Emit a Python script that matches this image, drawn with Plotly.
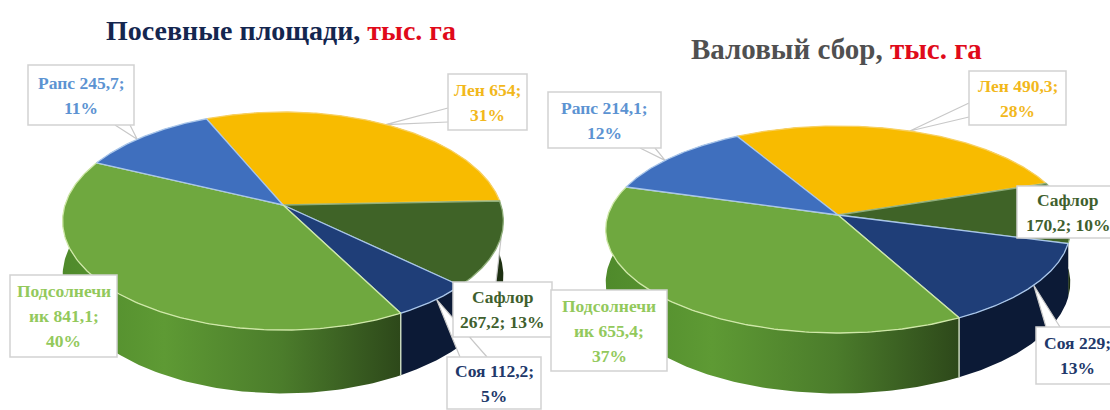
import numpy as np
import plotly.graph_objects as go

# ---------- data ----------
categories = ["Лен", "Сафлор", "Соя", "Подсолнечник", "Рапс"]
sown_area = [654, 267.2, 112.2, 841.1, 245.7]
harvest = [490.3, 170.2, 229, 655.4, 214.1]
sown_labels = [["Лен 654;", "31%"], ["Сафлор", "267,2; 13%"], ["Соя 112,2;", "5%"],
               ["Подсолнечи", "ик 841,1;", "40%"], ["Рапс 245,7;", "11%"]]
harvest_labels = [["Лен 490,3;", "28%"], ["Сафлор", "170,2; 10%"], ["Соя 229;", "13%"],
                  ["Подсолнечи", "ик 655,4;", "37%"], ["Рапс 214,1;", "12%"]]

# ---------- style ----------
top_colors = ["#F8BB00", "#3F6327", "#1F3E78", "#6FA83F", "#3F6FBE"]
rim_colors = ["#F8D060", "#8FAE7A", "#A9C6EA", "#CFE8A8", "#A9C6EA"]
side_colors = ["#B98C00", "#1E3012", "#0C1A36", None, "#2A4C88"]
label_colors = ["#F2B81C", "#3F5F2E", "#21386A", "#93C95C", "#5C93D2"]
FONT = "Liberation Serif"
green_scale = [[0, "#4F8A2B"], [0.3, "#5E9A34"], [0.65, "#4B7C2B"], [1, "#2D481A"]]

fig = go.Figure()


def project(deg, g, drop=0.0):
    t = np.radians(deg)
    X, Y = np.cos(t), np.sin(t)
    s = 1 / (1 + g["k"] * Y)
    return g["cx"] + g["a"] * X * s, g["cy"] + s * (drop - g["b"] * Y)


def draw_pie(values, g, labels, boxes, tips):
    vals = np.array(values, dtype=float)
    sweep = 360 * vals / vals.sum()
    ends = g["start"] - np.cumsum(sweep)
    starts = ends + sweep
    mids = (starts + ends) / 2

    # sides, back to front
    order = np.argsort(-np.sin(np.radians(mids)))
    for i in order:
        ang = np.linspace(starts[i], ends[i], 120)
        xt, yt = project(ang, g)
        xb, yb = project(ang, g, g["depth"])
        xs = np.r_[xt, xb[::-1], xt[0]]
        ys = np.r_[yt, yb[::-1], yt[0]]
        kw = {}
        if side_colors[i] is None:
            kw = dict(fillgradient=dict(type="horizontal", colorscale=green_scale,
                                        start=float(xs.min()), stop=float(xs.max())))
        else:
            kw = dict(fillcolor=side_colors[i])
        fig.add_trace(go.Scatter(x=xs, y=ys, mode="lines", fill="toself", line=dict(width=0),
                                 hoverinfo="skip", showlegend=False, **kw))
    # front separator between the sunflower and soy sides
    xa, ya = project(ends[2], g)
    xc, yc = project(ends[2], g, g["depth"])
    fig.add_trace(go.Scatter(x=[xa, xc], y=[ya, yc], mode="lines",
                             line=dict(color="#C9D8BC", width=1.5), hoverinfo="skip", showlegend=False))

    # callouts sit over the sides but under the top face
    for i in range(len(vals)):
        if tips[i] is not None:
            tx, ty = project(mids[i] + tips[i][0], g)
            bx = tips[i][1]
            fig.add_trace(go.Scatter(x=[bx[0], tx, bx[2]], y=[bx[1], ty, bx[3]], mode="lines",
                                     fill="toself", fillcolor="white",
                                     line=dict(color="#C8C8C8", width=1.2),
                                     hoverinfo="skip", showlegend=False))

    # top face
    for i in range(len(vals)):
        ang = np.linspace(starts[i], ends[i], 160)
        x, y = project(ang, g)
        fig.add_trace(go.Scatter(x=np.r_[g["cx"], x, g["cx"]], y=np.r_[g["cy"], y, g["cy"]],
                                 mode="lines", fill="toself", fillcolor=top_colors[i],
                                 line=dict(color=rim_colors[i], width=1.3),
                                 name=categories[i], hoverinfo="name", showlegend=False))

    # labels
    for i, lines in enumerate(labels):
        x0, y0, x1, y1 = boxes[i]
        fig.add_shape(type="rect", x0=x0, y0=y0, x1=x1, y1=y1, layer="above",
                      fillcolor="white", line=dict(color="#D2D2D2", width=1.5))
        n = len(lines)
        yc0 = (y0 + y1) / 2
        for j, t in enumerate(lines):
            fig.add_annotation(x=(x0 + x1) / 2, y=yc0 + (j - (n - 1) / 2) * g["lead"],
                               text="<b>" + t + "</b>",
                               showarrow=False, xanchor="center", yanchor="middle",
                               font=dict(family=FONT, size=g["fs"], color=label_colors[i]))


left = dict(cx=283, cy=205, a=218, b=106.7, k=0.147, depth=54, start=113.5, lead=25, fs=17.5)
right = dict(cx=838, cy=215, a=230, b=101.5, k=0.14, depth=52, start=119.5, lead=25, fs=17.5)

left_boxes = [(448, 74, 527, 130), (453, 282, 552, 337), (447, 357, 541, 409),
              (10, 275, 117, 357), (28, 65, 134, 125)]
left_tips = [(0, (448, 108, 448, 122)), (13, (496, 282, 462, 282)), (1, (487, 357, 460, 357)),
             None, (3, (115, 125, 130, 125))]
right_boxes = [(969, 71, 1066, 125), (1017, 186, 1119, 238), (1036, 327, 1118, 384),
               (551, 290, 667, 371), (548, 92, 661, 148)]
right_tips = [(0, (969, 103, 969, 117)), None, (0, (1060, 327, 1046, 327)),
              None, (3, (640, 148, 655, 148))]

draw_pie(sown_area, left, sown_labels, left_boxes, left_tips)
draw_pie(harvest, right, harvest_labels, right_boxes, right_tips)

fig.add_annotation(x=281, y=30, showarrow=False, xanchor="center", yanchor="middle",
                   text='<b><span style="color:#14264F">Посевные площади,</span> '
                        '<span style="color:#E00A1A">тыс. га</span></b>',
                   font=dict(family=FONT, size=28))
fig.add_annotation(x=836, y=49, showarrow=False, xanchor="center", yanchor="middle",
                   text='<b><span style="color:#505050">Валовый сбор,</span> '
                        '<span style="color:#E00A1A">тыс. га</span></b>',
                   font=dict(family=FONT, size=29))

fig.update_xaxes(range=[0, 1110], visible=False, fixedrange=True)
fig.update_yaxes(range=[410, 0], visible=False, fixedrange=True)
fig.update_layout(width=1110, height=410, margin=dict(l=0, r=0, t=0, b=0),
                  paper_bgcolor="white", plot_bgcolor="white", showlegend=False)
fig.write_html("out.html", config={"displayModeBar": False},
               post_script="document.body.style.margin='0';document.body.style.overflow='hidden';")
